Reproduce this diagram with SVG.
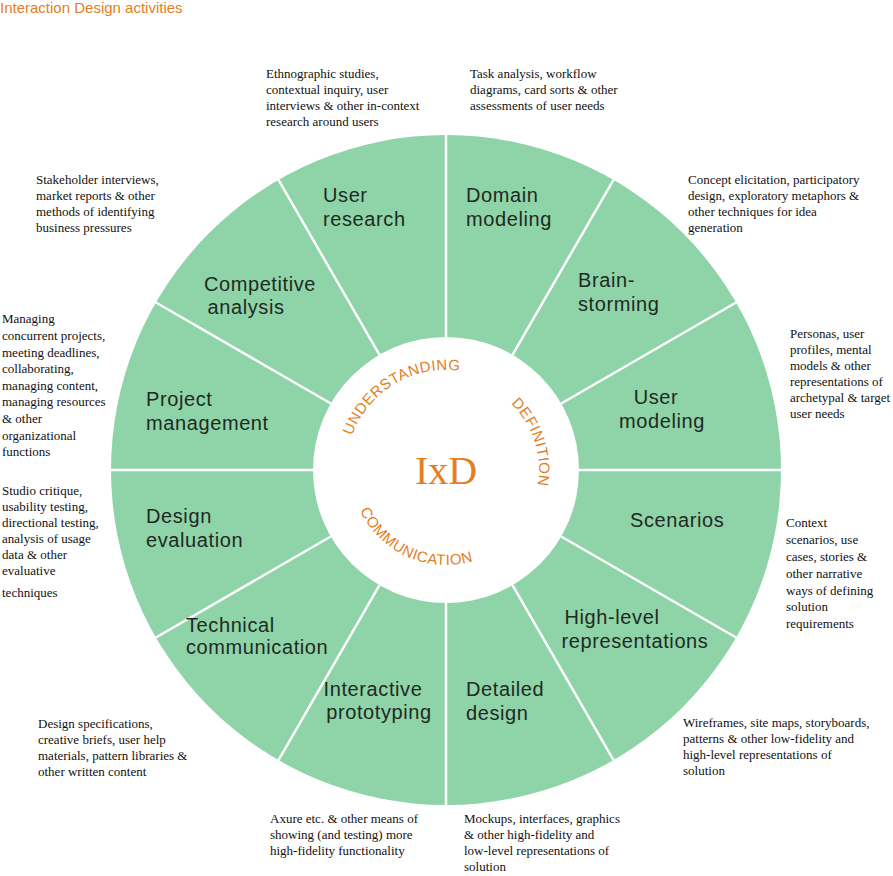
<svg xmlns="http://www.w3.org/2000/svg" width="893" height="876" viewBox="0 0 893 876">
<style>
.lab{font-family:"Liberation Sans",Arial,sans-serif;font-size:20px;fill:#1e2a22;letter-spacing:0.6px}
.ann{font-family:"Liberation Serif","Times New Roman",serif;font-size:13px;fill:#111}
.or{font-family:"Liberation Sans",Arial,sans-serif;fill:#e2801f}
.sep{stroke:#fff;stroke-width:2.5}
</style>
<rect width="893" height="876" fill="#fff"/>
<text class="or" x="0" y="13" font-size="15">Interaction Design activities</text>
<g id="ring">
<circle cx="446" cy="470" r="335" fill="#8fd3a8"/>
<circle cx="446" cy="470" r="133" fill="#fff"/>
</g>
<g id="connectors">
<line class="sep" x1="446" y1="135" x2="446" y2="337"/>
<line class="sep" x1="613.5" y1="179.9" x2="512.5" y2="354.8"/>
<line class="sep" x1="736.1" y1="302.5" x2="561.2" y2="403.5"/>
<line class="sep" x1="781" y1="470" x2="579" y2="470"/>
<line class="sep" x1="736.1" y1="637.5" x2="561.2" y2="536.5"/>
<line class="sep" x1="613.5" y1="760.1" x2="512.5" y2="585.2"/>
<line class="sep" x1="446" y1="805" x2="446" y2="603"/>
<line class="sep" x1="278.5" y1="760.1" x2="379.5" y2="585.2"/>
<line class="sep" x1="155.9" y1="637.5" x2="330.8" y2="536.5"/>
<line class="sep" x1="111" y1="470" x2="313" y2="470"/>
<line class="sep" x1="155.9" y1="302.5" x2="330.8" y2="403.5"/>
<line class="sep" x1="278.5" y1="179.9" x2="379.5" y2="354.8"/>
</g>
<defs>
<path id="pU" d="M346,471.7 A100,100 0 0 1 494.5,382.5"/>
<path id="pD" d="M480.8,383.8 A93,93 0 0 1 524.9,519.3"/>
<path id="pC" d="M351.2,463.4 A95,95 0 0 0 514.3,536"/>
</defs>
<g id="center">
<text class="or" font-size="15" letter-spacing="0.5"><textPath href="#pU" startOffset="50%" text-anchor="middle">UNDERSTANDING</textPath></text>
<text class="or" font-size="15" letter-spacing="0.5"><textPath href="#pD" startOffset="50%" text-anchor="middle">DEFINITION</textPath></text>
<text class="or" font-size="15" letter-spacing="0.5"><textPath href="#pC" startOffset="50%" text-anchor="middle">COMMUNICATION</textPath></text>
<text x="446" y="484" text-anchor="middle" font-family="Liberation Serif,serif" font-size="40" fill="#e2801f">IxD</text>
</g>
<g id="user-research"><text class="lab" x="323" y="202">User</text><text class="lab" x="323" y="226">research</text>
<text class="ann" x="266" y="78">Ethnographic studies,</text><text class="ann" x="266" y="94">contextual inquiry, user</text><text class="ann" x="266" y="110">interviews &amp; other in-context</text><text class="ann" x="266" y="126">research around users</text></g>
<g id="domain-modeling"><text class="lab" x="466" y="202">Domain</text><text class="lab" x="466" y="226">modeling</text>
<text class="ann" x="470" y="78">Task analysis, workflow</text><text class="ann" x="470" y="94">diagrams, card sorts &amp; other</text><text class="ann" x="470" y="110">assessments of user needs</text></g>
<g id="brainstorming"><text class="lab" x="578" y="287">Brain-</text><text class="lab" x="578" y="311">storming</text>
<text class="ann" x="688" y="184">Concept elicitation, participatory</text><text class="ann" x="688" y="200">design, exploratory metaphors &amp;</text><text class="ann" x="688" y="216">other techniques for idea</text><text class="ann" x="688" y="232">generation</text></g>
<g id="user-modeling"><text class="lab" x="656" y="404" text-anchor="middle">User</text><text class="lab" x="662" y="428" text-anchor="middle">modeling</text>
<text class="ann" x="790" y="338">Personas, user</text><text class="ann" x="790" y="354">profiles, mental</text><text class="ann" x="790" y="370">models &amp; other</text><text class="ann" x="790" y="386">representations of</text><text class="ann" x="790" y="402">archetypal &amp; target</text><text class="ann" x="790" y="418">user needs</text></g>
<g id="scenarios"><text class="lab" x="630" y="527">Scenarios</text>
<text class="ann" x="786" y="527">Context</text><text class="ann" x="786" y="544">scenarios, use</text><text class="ann" x="786" y="561">cases, stories &amp;</text><text class="ann" x="786" y="578">other narrative</text><text class="ann" x="786" y="595">ways of defining</text><text class="ann" x="786" y="611">solution</text><text class="ann" x="786" y="628">requirements</text></g>
<g id="high-level"><text class="lab" x="612" y="624" text-anchor="middle">High-level</text><text class="lab" x="635" y="648" text-anchor="middle">representations</text>
<text class="ann" x="683" y="727">Wireframes, site maps, storyboards,</text><text class="ann" x="683" y="743">patterns &amp; other low-fidelity and</text><text class="ann" x="683" y="759">high-level representations of</text><text class="ann" x="683" y="775">solution</text></g>
<g id="detailed-design"><text class="lab" x="466" y="696">Detailed</text><text class="lab" x="466" y="720">design</text>
<text class="ann" x="464" y="823">Mockups, interfaces, graphics</text><text class="ann" x="464" y="839">&amp; other high-fidelity and</text><text class="ann" x="464" y="855">low-level representations of</text><text class="ann" x="464" y="871">solution</text></g>
<g id="interactive-prototyping"><text class="lab" x="373" y="696" text-anchor="middle">Interactive</text><text class="lab" x="379" y="719" text-anchor="middle">prototyping</text>
<text class="ann" x="270" y="823">Axure etc. &amp; other means of</text><text class="ann" x="270" y="839">showing (and testing) more</text><text class="ann" x="270" y="855">high-fidelity functionality</text></g>
<g id="technical-communication"><text class="lab" x="186" y="632">Technical</text><text class="lab" x="186" y="654">communication</text>
<text class="ann" x="38" y="728">Design specifications,</text><text class="ann" x="38" y="744">creative briefs, user help</text><text class="ann" x="38" y="760">materials, pattern libraries &amp;</text><text class="ann" x="38" y="776">other written content</text></g>
<g id="design-evaluation"><text class="lab" x="146" y="523">Design</text><text class="lab" x="146" y="547">evaluation</text>
<text class="ann" x="2" y="495">Studio critique,</text><text class="ann" x="2" y="511">usability testing,</text><text class="ann" x="2" y="527">directional testing,</text><text class="ann" x="2" y="543">analysis of usage</text><text class="ann" x="2" y="559">data &amp; other</text><text class="ann" x="2" y="575">evaluative</text><text class="ann" x="2" y="597">techniques</text></g>
<g id="project-management"><text class="lab" x="146" y="406">Project</text><text class="lab" x="146" y="430">management</text>
<text class="ann" x="2" y="323">Managing</text><text class="ann" x="2" y="340">concurrent projects,</text><text class="ann" x="2" y="357">meeting deadlines,</text><text class="ann" x="2" y="373">collaborating,</text><text class="ann" x="2" y="390">managing content,</text><text class="ann" x="2" y="406">managing resources</text><text class="ann" x="2" y="423">&amp; other</text><text class="ann" x="2" y="440">organizational</text><text class="ann" x="2" y="456">functions</text></g>
<g id="competitive-analysis"><text class="lab" x="260" y="291" text-anchor="middle">Competitive</text><text class="lab" x="246" y="314" text-anchor="middle">analysis</text>
<text class="ann" x="36" y="184">Stakeholder interviews,</text><text class="ann" x="36" y="200">market reports &amp; other</text><text class="ann" x="36" y="216">methods of identifying</text><text class="ann" x="36" y="232">business pressures</text></g>
</svg>
